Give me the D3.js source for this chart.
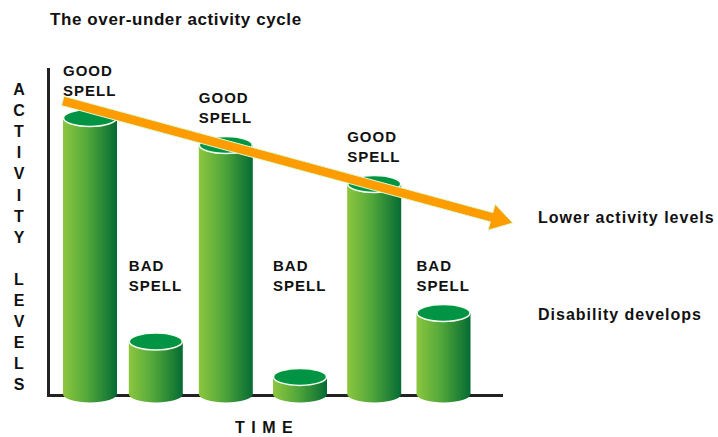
<!DOCTYPE html>
<html>
<head>
<meta charset="utf-8">
<script src="https://cdn.jsdelivr.net/npm/d3@7"></script>
<style>
  html, body { margin: 0; padding: 0; background: #fff; }
  svg { display: block; font-family: "Liberation Sans", Arial, sans-serif; font-weight: bold; }
</style>
</head>
<body>
<div id="chart"></div>
<script>
// CHART DATA
const spellLabels = ["GOOD", "BAD", "GOOD", "BAD", "GOOD", "BAD"];
const timePoints = [0, 0.94, 1.94, 3.0, 4.06, 5.05];
const activity = [92, 17.5, 83, 5.7, 70, 27];
const trendTime = [-0.39, 6.04];
const trendLevel = [97.7, 57];
const noteTexts = ["Lower activity levels", "Disability develops"];
const noteLevels = [57, 24.7];
const yAxisTitle = "ACTIVITY LEVELS";
const xAxisTitle = "TIME";
const chartTitle = "The over-under activity cycle";

// SIZE SETTINGS
const width = 718;
const height = 437;
const barWidth = 54;
const ry = 8.5;
const badLabelLevel = 41;

const svg = d3.select("#chart")
    .append("svg")
    .attr("width", width)
    .attr("height", height);

const x = d3.scaleLinear().domain([0, 1]).range([90, 160]);
const y = d3.scaleLinear().domain([0, 100]).range([394, 94]);

// GRADIENT FOR CYLINDER BODY
const defs = svg.append("defs");
const grad = defs.append("linearGradient")
    .attr("id", "body")
    .attr("x1", "0%").attr("x2", "100%")
    .attr("y1", "0%").attr("y2", "0%");
grad.append("stop").attr("offset", "0%").attr("stop-color", "#8dc63f");
grad.append("stop").attr("offset", "45%").attr("stop-color", "#52a83a");
grad.append("stop").attr("offset", "100%").attr("stop-color", "#056b33");

// TITLE
svg.append("text")
    .attr("x", 50).attr("y", 25)
    .attr("font-size", 17)
    .attr("letter-spacing", 0.6)
    .attr("fill", "#111")
    .text(chartTitle);

// AXES (L SHAPE)
svg.append("path")
    .attr("d", `M48.5,68 V${y(0) + 1.5} H503`)
    .attr("fill", "none")
    .attr("stroke", "#222")
    .attr("stroke-width", 3);

// VERTICAL AXIS TITLE, ONE LETTER PER LINE
svg.append("g")
    .selectAll("text")
    .data(yAxisTitle.split(""))
    .join("text")
    .attr("x", 19)
    .attr("y", (_, i) => 95 + i * 21.1)
    .attr("text-anchor", "middle")
    .attr("font-size", 16)
    .attr("fill", "#111")
    .text(d => d);

// TIME LABEL
svg.append("text")
    .attr("x", 235).attr("y", 433)
    .attr("font-size", 16)
    .attr("letter-spacing", 6.5)
    .attr("fill", "#111")
    .text(xAxisTitle);

// CYLINDERS
const bars = svg.append("g")
    .selectAll("g")
    .data(activity.map((v, i) => ({ v, t: timePoints[i], label: spellLabels[i] })))
    .join("g");

bars.append("path")
    .attr("d", d => {
        const cx = x(d.t), l = cx - barWidth / 2, r = cx + barWidth / 2;
        return `M${l},${y(d.v)} V${y(0)} A${barWidth / 2},${ry} 0 0 0 ${r},${y(0)} V${y(d.v)} Z`;
    })
    .attr("fill", "url(#body)");

bars.append("ellipse")
    .attr("cx", d => x(d.t))
    .attr("cy", d => y(d.v))
    .attr("rx", barWidth / 2 - 0.5)
    .attr("ry", ry)
    .attr("fill", "#009444")
    .attr("stroke", "#f4fff0")
    .attr("stroke-width", 1.5);

// SPELL LABELS
bars.each(function (d) {
    const g = d3.select(this);
    const left = x(d.t) - barWidth / 2;
    const base = d.label === "GOOD" ? y(d.v) - ry - 34 : y(badLabelLevel);
    [d.label, "SPELL"].forEach((line, k) => {
        g.append("text")
            .attr("x", left)
            .attr("y", base + k * 20)
            .attr("font-size", 15)
            .attr("letter-spacing", 1)
            .attr("fill", "#111")
            .text(line);
    });
});

// TREND ARROW
const p0 = [x(trendTime[0]), y(trendLevel[0])];
const p1 = [x(trendTime[1]), y(trendLevel[1])];
const len = Math.hypot(p1[0] - p0[0], p1[1] - p0[1]);
const ux = (p1[0] - p0[0]) / len, uy = (p1[1] - p0[1]) / len;
const nx = -uy, ny = ux;
const shaft = 4.8, headLen = 22, headHalf = 13.5;
const at = (along, side) => [p0[0] + ux * along + nx * side, p0[1] + uy * along + ny * side];
const arrowPts = [
    at(0, -shaft), at(len - headLen, -shaft), at(len - headLen, -headHalf),
    at(len, 0),
    at(len - headLen, headHalf), at(len - headLen, shaft), at(0, shaft)
];
svg.append("polygon")
    .attr("points", arrowPts.map(p => p.join(",")).join(" "))
    .attr("fill", "#ff9c00")
    .attr("stroke", "#d9fbd0")
    .attr("stroke-width", 1);

// NOTES ON THE RIGHT
svg.append("g")
    .selectAll("text")
    .data(noteTexts)
    .join("text")
    .attr("x", 538)
    .attr("y", (_, i) => y(noteLevels[i]))
    .attr("font-size", 16)
    .attr("letter-spacing", 1)
    .attr("fill", "#111")
    .text(d => d);
</script>
</body>
</html>
